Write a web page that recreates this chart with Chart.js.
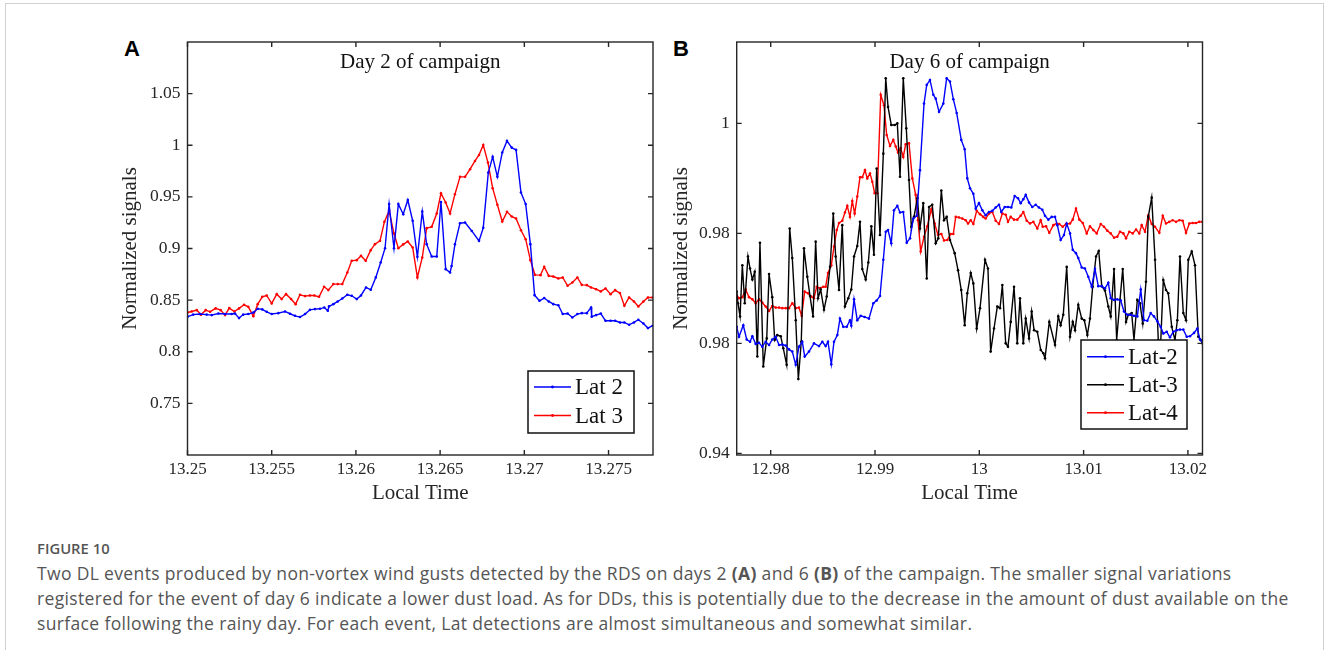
<!DOCTYPE html>
<html>
<head>
<meta charset="utf-8">
<script src="https://cdn.jsdelivr.net/npm/chart.js@4.4.1/dist/chart.umd.min.js"></script>
<style>
  body { margin: 0; background: #fff; }
  #page { position: relative; width: 1328px; height: 650px; overflow: hidden; background: #fff; }
  #frame { position: absolute; left: 5px; top: 3px; width: 1317px; height: 700px; border: 1px solid #d0d0d0; }
  .panel { position: absolute; font: bold 22px "Liberation Sans", Arial, sans-serif; color: #000; }
  .plot { position: absolute; top: 0; width: 570px; height: 510px; }
  #caption { position: absolute; left: 37px; top: 536px; font-family: "Open Sans", sans-serif; color: #555; white-space: nowrap; line-height: 25px; }
  #caption .fig { font-size: 14.8px; font-weight: 600; }
  #caption .txt { font-size: 17.5px; letter-spacing: 0.35px; }
</style>
</head>
<body>
<div id="page">
  <div id="frame"></div>
  <div class="panel" style="left:124px; top:36px;">A</div>
  <div class="panel" style="left:673px; top:36px;">B</div>
  <div class="plot" style="left:100px;"><canvas id="chartA" width="570" height="510"></canvas></div>
  <div class="plot" style="left:650px;"><canvas id="chartB" width="570" height="510"></canvas></div>
  <div id="caption">
    <div class="fig">FIGURE 10</div>
    <div class="txt">Two DL events produced by non-vortex wind gusts detected by the RDS on days 2 <b>(A)</b> and 6 <b>(B)</b> of the campaign. The smaller signal variations<br>registered for the event of day 6 indicate a lower dust load. As for DDs, this is potentially due to the decrease in the amount of dust available on the<br>surface following the rainy day. For each event, Lat detections are almost simultaneous and somewhat similar.</div>
  </div>
</div>
<script>
// ---- panel A (day 2) ----
var timeA2 = [13.25001, 13.25034, 13.25074, 13.25114, 13.25144, 13.25183, 13.25223, 13.25262, 13.25282, 13.25306,
  13.25331, 13.25361, 13.25391, 13.25417, 13.25444, 13.2547, 13.255, 13.25539, 13.25579, 13.25609,
  13.25638, 13.25668, 13.25698, 13.25727, 13.25757, 13.25787, 13.25812, 13.25833, 13.2584, 13.25866,
  13.25892, 13.25919, 13.25949, 13.25975, 13.26005, 13.2603, 13.2606, 13.26088, 13.26118, 13.26147,
  13.26173, 13.26197, 13.26226, 13.26252, 13.26281, 13.26308, 13.26337, 13.26365, 13.26394, 13.2642,
  13.2645, 13.2648, 13.26505, 13.26533, 13.26559, 13.26568, 13.26588, 13.26618, 13.26648, 13.26688,
  13.26731, 13.26756, 13.26786, 13.26812, 13.2684, 13.26869, 13.26897, 13.26925, 13.26951, 13.2698,
  13.27008, 13.27036, 13.27061, 13.2709, 13.27118, 13.27145, 13.27172, 13.27202, 13.27228, 13.27257,
  13.27285, 13.27315, 13.27341, 13.27371, 13.27396, 13.274, 13.27426, 13.27454, 13.27482, 13.27512,
  13.27539, 13.27568, 13.27594, 13.27622, 13.27651, 13.27677, 13.27707, 13.27734, 13.27762];
var lat2A = [0.834, 0.836, 0.8365, 0.836, 0.8355, 0.837, 0.8365, 0.8365, 0.837, 0.8326,
  0.836, 0.8365, 0.838, 0.8416, 0.841, 0.8387, 0.8365, 0.8374, 0.839, 0.8368,
  0.8348, 0.8336, 0.8365, 0.8406, 0.8413, 0.8416, 0.8429, 0.8397, 0.8439, 0.8461,
  0.8487, 0.8516, 0.8552, 0.8542, 0.851, 0.8545, 0.8623, 0.86, 0.872, 0.8865,
  0.9003, 0.943, 0.9003, 0.943, 0.9332, 0.947, 0.9268, 0.892, 0.9358, 0.9042,
  0.8923, 0.8923, 0.945, 0.88, 0.8768, 0.883, 0.904, 0.9245, 0.9252, 0.917,
  0.9074, 0.92, 0.9735, 0.9887, 0.9694, 0.993, 1.0042, 0.9977, 0.9955, 0.9542,
  0.943, 0.9042, 0.8548, 0.8494, 0.852, 0.8487, 0.8461, 0.845, 0.8365, 0.837,
  0.8332, 0.8365, 0.8374, 0.8374, 0.8429, 0.834, 0.8355, 0.837, 0.83, 0.83,
  0.83, 0.8284, 0.8284, 0.8261, 0.8284, 0.831, 0.8274, 0.8229, 0.8252];

var timeA3 = [13.25001, 13.25025, 13.25055, 13.2508, 13.25108, 13.25134, 13.25167, 13.25197, 13.25223, 13.25248,
  13.25278, 13.25306, 13.25336, 13.25361, 13.25391, 13.25417, 13.25444, 13.2547, 13.255, 13.2553,
  13.25559, 13.25585, 13.25615, 13.25642, 13.25668, 13.25698, 13.25727, 13.25753, 13.25781, 13.25811,
  13.25836, 13.25866, 13.25892, 13.25919, 13.25949, 13.25975, 13.26005, 13.2603, 13.26058, 13.26088,
  13.26113, 13.26143, 13.26169, 13.26197, 13.26226, 13.26252, 13.26281, 13.26308, 13.26337, 13.26365,
  13.26394, 13.2642, 13.2645, 13.2648, 13.26505, 13.26533, 13.26559, 13.26588, 13.26618, 13.26648,
  13.26678, 13.26707, 13.26731, 13.26756, 13.26784, 13.26812, 13.2684, 13.26869, 13.26897, 13.26925,
  13.26951, 13.2698, 13.27008, 13.27036, 13.27063, 13.27096, 13.27118, 13.27145, 13.27172, 13.27202,
  13.27228, 13.27257, 13.27285, 13.27315, 13.27341, 13.27371, 13.27396, 13.27426, 13.27454, 13.27482,
  13.27512, 13.27539, 13.27568, 13.27594, 13.27622, 13.27651, 13.27677, 13.27707, 13.27734, 13.27762];
var lat3A = [0.838, 0.839, 0.8403, 0.8358, 0.8403, 0.8387, 0.842, 0.8403, 0.8355, 0.8423,
  0.839, 0.842, 0.8455, 0.8435, 0.8345, 0.8461, 0.8532, 0.8545, 0.8468, 0.8558,
  0.851, 0.8558, 0.851, 0.8461, 0.8552, 0.8539, 0.8545, 0.8545, 0.8532, 0.8629,
  0.8597, 0.8655, 0.8655, 0.8655, 0.8768, 0.8881, 0.8887, 0.8929, 0.8881, 0.8984,
  0.9042, 0.9074, 0.9258, 0.9365, 0.9145, 0.9003, 0.904, 0.9068, 0.901, 0.872,
  0.8913, 0.9197, 0.921, 0.9339, 0.9535, 0.9445, 0.9339, 0.9526, 0.9694, 0.9694,
  0.9768, 0.9848, 0.9906, 1.0003, 0.9832, 0.9584, 0.9423, 0.9261, 0.9355, 0.931,
  0.929, 0.9177, 0.909, 0.8887, 0.8745, 0.8742, 0.8823, 0.8735, 0.8729, 0.871,
  0.8719, 0.8639, 0.8671, 0.8719, 0.8648, 0.8645, 0.8623, 0.8606, 0.8584, 0.8613,
  0.8558, 0.8597, 0.8568, 0.8445, 0.8526, 0.8487, 0.8439, 0.8487, 0.8526, 0.8526];

var xTicksA = [13.25, 13.255, 13.26, 13.265, 13.27, 13.275];
var xTickLabelsA = ["13.25", "13.255", "13.26", "13.265", "13.27", "13.275"];
var yTicksA = [0.75, 0.8, 0.85, 0.9, 0.95, 1, 1.05];
var yTickLabelsA = ["0.75", "0.8", "0.85", "0.9", "0.95", "1", "1.05"];

// ---- panel B (day 6) ----
var timeB2 = [12.97674, 12.97696, 12.97737, 12.9777, 12.97802, 12.97824, 12.97856, 12.97888, 12.97919, 12.97952,
  12.97984, 12.98015, 12.98048, 12.9808, 12.98111, 12.98144, 12.98175, 12.98207, 12.9824, 12.98271,
  12.98303, 12.98326, 12.98367, 12.98415, 12.98463, 12.98495, 12.98527, 12.98549, 12.98581, 12.98607,
  12.98639, 12.98664, 12.98696, 12.98729, 12.9876, 12.98773, 12.98799, 12.9883, 12.98863, 12.98901,
  12.98942, 12.98984, 12.99016, 12.99048, 12.9908, 12.99103, 12.99125, 12.99156, 12.99182, 12.99214,
  12.9924, 12.99271, 12.99304, 12.99336, 12.99367, 12.994, 12.99431, 12.9947, 12.99496, 12.99527,
  12.99559, 12.99582, 12.99614, 12.99655, 12.99687, 12.99719, 12.99751, 12.99783, 12.99827, 12.9986,
  12.99885, 12.99911, 12.99943, 12.99966, 12.99997, 13.00029, 13.00061, 13.00093, 13.00125, 13.00157,
  13.00189, 13.00211, 13.00244, 13.00275, 13.00307, 13.00339, 13.00371, 13.00397, 13.00422, 13.00445,
  13.00477, 13.00508, 13.00541, 13.00572, 13.00604, 13.0063, 13.00662, 13.00694, 13.00726, 13.00748,
  13.0078, 13.00812, 13.00838, 13.0087, 13.00896, 13.00927, 13.00949, 13.00982, 13.01013, 13.01045,
  13.01078, 13.01109, 13.01141, 13.01174, 13.01205, 13.01237, 13.0126, 13.01292, 13.01323, 13.01356,
  13.01387, 13.01419, 13.01452, 13.01483, 13.01515, 13.01548, 13.01579, 13.01611, 13.01643, 13.01675,
  13.01707, 13.01739, 13.01764, 13.01797, 13.01828, 13.0186, 13.01893, 13.01924, 13.01956, 13.01989,
  13.0202, 13.02059, 13.0209, 13.02116, 13.02138];
var lat2B = [0.963, 0.9612, 0.9633, 0.9607, 0.9603, 0.9613, 0.9599, 0.9601, 0.9594, 0.9603,
  0.9597, 0.9607, 0.9612, 0.9597, 0.9598, 0.9596, 0.9589, 0.9585, 0.9561, 0.9594,
  0.9603, 0.9576, 0.9585, 0.96, 0.9595, 0.9603, 0.9595, 0.9603, 0.9562, 0.9603,
  0.9615, 0.9645, 0.963, 0.963, 0.9642, 0.9632, 0.968, 0.9642, 0.965, 0.9648,
  0.9645, 0.9673, 0.9678, 0.9686, 0.9752, 0.9803, 0.9806, 0.9782, 0.9842, 0.985,
  0.9838, 0.9839, 0.9783, 0.9791, 0.9827, 0.9832, 0.9915, 1.0036, 1.007, 1.0079,
  1.0052, 1.0045, 1.0021, 1.0036, 1.0082, 1.0076, 1.0044, 1.0019, 0.997, 0.9953,
  0.99, 0.9882, 0.9872, 0.9845, 0.9855, 0.9842, 0.9833, 0.9839, 0.9841, 0.9847,
  0.9852, 0.9839, 0.9848, 0.9848, 0.9847, 0.9868, 0.9864, 0.9855, 0.9862, 0.987,
  0.9856, 0.9848, 0.9852, 0.9847, 0.9843, 0.9832, 0.9825, 0.983, 0.983, 0.9815,
  0.9788, 0.9797, 0.9818, 0.98, 0.977, 0.9764, 0.9755, 0.9738, 0.9736, 0.9721,
  0.9703, 0.9735, 0.9704, 0.9704, 0.97, 0.971, 0.9682, 0.9679, 0.968, 0.9678,
  0.9658, 0.9652, 0.9652, 0.965, 0.9649, 0.9698, 0.9642, 0.9641, 0.9655, 0.9649,
  0.964, 0.963, 0.9618, 0.9621, 0.9611, 0.9621, 0.9624, 0.9625, 0.9625, 0.9612,
  0.9613, 0.9619, 0.9627, 0.9607, 0.9603];

var timeB3 = [12.97674, 12.97686, 12.97706, 12.97728, 12.97751, 12.97782, 12.97802, 12.97824, 12.97847, 12.97872,
  12.97897, 12.97929, 12.97962, 12.97984, 12.98015, 12.98038, 12.98063, 12.98096, 12.98121, 12.98153,
  12.98182, 12.98207, 12.9824, 12.98265, 12.98293, 12.98319, 12.98351, 12.98377, 12.98406, 12.98431,
  12.98454, 12.98479, 12.98511, 12.98537, 12.98569, 12.986, 12.98623, 12.98655, 12.98686, 12.98712,
  12.98744, 12.98773, 12.98799, 12.9883, 12.98856, 12.98878, 12.98911, 12.98936, 12.98965, 12.9899,
  12.99016, 12.99048, 12.9908, 12.99103, 12.99125, 12.99156, 12.99189, 12.99214, 12.9924, 12.99271,
  12.993, 12.99326, 12.99348, 12.99374, 12.99406, 12.99431, 12.99463, 12.99496, 12.99518, 12.99549,
  12.99582, 12.99607, 12.99636, 12.99662, 12.99687, 12.99719, 12.99764, 12.99796, 12.99827, 12.9986,
  12.99885, 12.99918, 12.99943, 12.99975, 13.00007, 13.00055, 13.00083, 13.00109, 13.00141, 13.00173,
  13.00199, 13.00221, 13.00253, 13.00275, 13.00301, 13.00333, 13.00364, 13.0039, 13.00422, 13.00445,
  13.00477, 13.00502, 13.00525, 13.00556, 13.00589, 13.00614, 13.0063, 13.00671, 13.00726, 13.00757,
  13.0078, 13.00805, 13.00838, 13.0087, 13.00896, 13.00918, 13.00949, 13.00982, 13.01007, 13.01036,
  13.01061, 13.01087, 13.01119, 13.01145, 13.01174, 13.01205, 13.01237, 13.0126, 13.01292, 13.01317,
  13.01349, 13.01375, 13.01407, 13.01429, 13.01461, 13.01483, 13.01515, 13.01541, 13.01567, 13.01598,
  13.0162, 13.01653, 13.01685, 13.01716, 13.01739, 13.01764, 13.0179, 13.01812, 13.01845, 13.01876,
  13.01899, 13.01924, 13.01956, 13.01982, 13.02004, 13.02037, 13.02068, 13.021, 13.02123, 13.02138];
var lat3B = [0.9694, 0.9673, 0.9649, 0.9742, 0.9673, 0.9758, 0.9736, 0.9716, 0.973, 0.9576,
  0.9783, 0.9558, 0.9609, 0.9726, 0.9684, 0.9606, 0.9615, 0.9613, 0.9591, 0.9561,
  0.9809, 0.9755, 0.9642, 0.9535, 0.9603, 0.9773, 0.9721, 0.9686, 0.9649, 0.9785,
  0.9682, 0.9698, 0.9661, 0.9685, 0.9739, 0.9836, 0.9758, 0.9697, 0.9815, 0.9667,
  0.9682, 0.9698, 0.9758, 0.9777, 0.9821, 0.9735, 0.9716, 0.9747, 0.9813, 0.9761,
  0.9918, 0.9797, 0.9945, 1.0082, 1.003, 0.9997, 0.9997, 1.0, 0.9903, 1.0082,
  0.9991, 0.9897, 0.9812, 0.983, 0.9864, 0.9809, 0.9855, 0.9718, 0.9848, 0.9852,
  0.9782, 0.9791, 0.9878, 0.9824, 0.983, 0.9788, 0.9764, 0.9733, 0.9697, 0.9633,
  0.9691, 0.9728, 0.9709, 0.9627, 0.9664, 0.9752, 0.9736, 0.9585, 0.9627, 0.9667,
  0.9664, 0.9706, 0.96, 0.9594, 0.9639, 0.9703, 0.96, 0.9682, 0.96, 0.9645,
  0.9609, 0.9658, 0.9624, 0.9621, 0.9588, 0.9582, 0.9573, 0.9639, 0.9597, 0.9649,
  0.9633, 0.9652, 0.9739, 0.9612, 0.9639, 0.9624, 0.967, 0.9645, 0.9642, 0.9615,
  0.9645, 0.9703, 0.9758, 0.9768, 0.9704, 0.9696, 0.9667, 0.9649, 0.9735, 0.9606,
  0.9679, 0.9735, 0.9639, 0.9652, 0.9655, 0.9606, 0.9679, 0.9673, 0.9636, 0.9712,
  0.983, 0.9865, 0.9752, 0.9606, 0.96, 0.9715, 0.9697, 0.9691, 0.963, 0.9606,
  0.9642, 0.9758, 0.9655, 0.9642, 0.9752, 0.9767, 0.9742, 0.9612, 0.9606, 0.96];

var timeB4 = [12.97674, 12.97696, 12.97728, 12.9776, 12.97792, 12.97824, 12.97856, 12.97888, 12.97919, 12.97952,
  12.97984, 12.98015, 12.98048, 12.9808, 12.98111, 12.98144, 12.98175, 12.98207, 12.9824, 12.98271,
  12.98297, 12.98326, 12.98358, 12.98389, 12.98415, 12.98441, 12.98473, 12.98504, 12.98527, 12.98549,
  12.98581, 12.98607, 12.98633, 12.98655, 12.98686, 12.98712, 12.98734, 12.9876, 12.98782, 12.98805,
  12.9883, 12.98856, 12.98878, 12.98904, 12.98926, 12.98952, 12.98974, 12.98997, 12.99022, 12.99055,
  12.99086, 12.99112, 12.99144, 12.99175, 12.99199, 12.99221, 12.99246, 12.99271, 12.99294, 12.99326,
  12.99358, 12.9939, 12.99412, 12.99438, 12.9947, 12.99502, 12.9954, 12.99572, 12.99604, 12.99636,
  12.99662, 12.99693, 12.99726, 12.99751, 12.99774, 12.99805, 12.99837, 12.9987, 12.99892, 12.99918,
  12.99943, 12.99975, 13.00007, 13.00038, 13.00061, 13.00093, 13.00125, 13.00157, 13.00189, 13.00221,
  13.00253, 13.00275, 13.00301, 13.00333, 13.00364, 13.00397, 13.00422, 13.00455, 13.00486, 13.00518,
  13.00556, 13.00589, 13.00608, 13.0064, 13.00671, 13.0071, 13.00742, 13.00767, 13.008, 13.00831,
  13.0087, 13.00896, 13.00927, 13.00959, 13.00992, 13.0103, 13.01061, 13.01093, 13.01126, 13.01164,
  13.01196, 13.01227, 13.0126, 13.01292, 13.01323, 13.01349, 13.01381, 13.01407, 13.01438, 13.01471,
  13.01503, 13.01534, 13.01557, 13.01589, 13.0162, 13.01653, 13.01685, 13.01726, 13.01759, 13.0179,
  13.01822, 13.01854, 13.01886, 13.01918, 13.0195, 13.01982, 13.02014, 13.02046, 13.02078, 13.02109,
  13.02138];
var lat4B = [0.9688, 0.9682, 0.9684, 0.9698, 0.9684, 0.968, 0.9673, 0.968, 0.9674, 0.9667,
  0.9659, 0.9668, 0.9665, 0.9665, 0.9664, 0.9664, 0.9664, 0.9673, 0.9664, 0.9665,
  0.965, 0.9694, 0.9691, 0.9685, 0.9682, 0.9703, 0.97, 0.9703, 0.9703, 0.9728,
  0.9742, 0.9776, 0.9806, 0.9819, 0.9823, 0.9838, 0.985, 0.983, 0.9859, 0.9836,
  0.9867, 0.9902, 0.9902, 0.9915, 0.99, 0.9909, 0.9894, 0.9873, 0.9873, 1.0052,
  1.0033, 0.9979, 0.9959, 0.997, 0.9958, 0.9947, 0.9955, 0.9939, 0.9962, 0.9964,
  0.99, 0.987, 0.9824, 0.9767, 0.9794, 0.9813, 0.9844, 0.9818, 0.9797, 0.9799,
  0.9787, 0.9788, 0.9799, 0.9799, 0.983, 0.9829, 0.9827, 0.9824, 0.9818, 0.9824,
  0.9817, 0.9841, 0.9835, 0.983, 0.9827, 0.9836, 0.9839, 0.9823, 0.9817, 0.9836,
  0.9834, 0.9821, 0.983, 0.9825, 0.9825, 0.9832, 0.9839, 0.9823, 0.9818, 0.9821,
  0.9809, 0.9824, 0.9812, 0.9813, 0.9801, 0.9815, 0.9818, 0.9817, 0.9812, 0.9817,
  0.9818, 0.9825, 0.9845, 0.9825, 0.9819, 0.98, 0.9813, 0.9806, 0.98, 0.9817,
  0.9812, 0.9805, 0.98, 0.9792, 0.9794, 0.9803, 0.98, 0.9791, 0.9803, 0.98,
  0.9807, 0.98, 0.9815, 0.9803, 0.9833, 0.9817, 0.9812, 0.9801, 0.9832, 0.9818,
  0.9821, 0.9824, 0.9821, 0.9824, 0.9823, 0.9801, 0.9818, 0.9819, 0.9819, 0.9821,
  0.9821];

var xTicksB = [12.98, 12.99, 13, 13.01, 13.02];
var xTickLabelsB = ["12.98", "12.99", "13", "13.01", "13.02"];
var yTicksB = [0.94, 0.96, 0.98, 1];
var yTickLabelsB = ["0.94", "0.98", "0.98", "1"];

var SERIF = '"Liberation Serif", "Times New Roman", serif';
var INK = "#262626";

function points(times, values) {
  return times.map((t, i) => ({ x: t, y: values[i] }));
}

function series(label, times, values, color) {
  return {
    label: label,
    data: points(times, values),
    borderColor: color,
    backgroundColor: color,
    borderWidth: 1.4,
    pointRadius: 1.3,
    pointBorderWidth: 0,
    pointHoverRadius: 0,
    tension: 0
  };
}

// box round the axes, inward ticks on all four sides, title inside, legend box
var matlabAxes = {
  id: "matlabAxes",
  afterDatasetsDraw(chart, args, opts) {
    var ctx = chart.ctx;
    var a = chart.chartArea;
    var x = chart.scales.x, y = chart.scales.y;
    ctx.save();
    ctx.strokeStyle = INK;
    ctx.lineWidth = 1.4;
    ctx.beginPath();
    x.ticks.forEach(t => {
      var px = x.getPixelForValue(t.value);
      ctx.moveTo(px, a.bottom); ctx.lineTo(px, a.bottom - 5);
      ctx.moveTo(px, a.top); ctx.lineTo(px, a.top + 5);
    });
    y.ticks.forEach(t => {
      var py = y.getPixelForValue(t.value);
      ctx.moveTo(a.left, py); ctx.lineTo(a.left + 5, py);
      ctx.moveTo(a.right, py); ctx.lineTo(a.right - 5, py);
    });
    ctx.stroke();
    ctx.strokeRect(a.left, a.top, a.right - a.left, a.bottom - a.top);

    // title inside the axes
    ctx.fillStyle = "#111";
    ctx.font = "21px " + SERIF;
    ctx.textAlign = "center";
    ctx.textBaseline = "middle";
    ctx.fillText(opts.title, (a.left + a.right) / 2, a.top + 20);

    // legend
    var b = opts.legend;
    ctx.fillStyle = "#fff";
    ctx.fillRect(b.x, b.y, b.w, b.h);
    ctx.lineWidth = 1.5;
    ctx.strokeStyle = "#111";
    ctx.strokeRect(b.x, b.y, b.w, b.h);
    ctx.font = "23px " + SERIF;
    ctx.textAlign = "left";
    chart.data.datasets.forEach((ds, i) => {
      var ly = b.y + b.rowTop + i * b.rowGap;
      ctx.strokeStyle = ds.borderColor;
      ctx.lineWidth = 1.4;
      ctx.beginPath();
      ctx.moveTo(b.x + 6, ly);
      ctx.lineTo(b.x + 43, ly);
      ctx.stroke();
      ctx.fillStyle = ds.borderColor;
      ctx.beginPath();
      ctx.arc(b.x + 24.5, ly, 1.4, 0, Math.PI * 2);
      ctx.fill();
      ctx.fillStyle = "#111";
      ctx.fillText(ds.label, b.x + 47, ly + 1);
    });
    ctx.restore();
  }
};

function makeChart(el, cfg) {
  return new Chart(el, {
    type: "line",
    data: { datasets: cfg.datasets },
    plugins: [matlabAxes],
    options: {
      responsive: false,
      animation: false,
      events: [],
      layout: { padding: { top: 42, right: cfg.padRight, bottom: 0, left: 0 } },
      plugins: {
        legend: { display: false },
        tooltip: { enabled: false },
        matlabAxes: { title: cfg.title, legend: cfg.legend }
      },
      scales: {
        x: {
          type: "linear",
          min: cfg.xMin,
          max: cfg.xMax,
          afterBuildTicks: s => { s.ticks = cfg.xTicks.map(v => ({ value: v })); },
          afterFit: s => { s.height = 55; },
          grid: { display: false, drawTicks: false },
          border: { display: false },
          ticks: {
            autoSkip: false, maxRotation: 0, minRotation: 0, padding: 4,
            color: INK, font: { family: SERIF, size: 17 },
            callback: (v, i) => cfg.xLabels[i]
          },
          title: {
            display: true, text: "Local Time", color: INK,
            font: { family: SERIF, size: 21 }, padding: { top: 0, bottom: 4 }
          }
        },
        y: {
          type: "linear",
          min: cfg.yMin,
          max: cfg.yMax,
          afterBuildTicks: s => { s.ticks = cfg.yTicks.map(v => ({ value: v })); },
          afterFit: s => { s.width = cfg.yWidth; },
          grid: { display: false, drawTicks: false },
          border: { display: false },
          ticks: {
            autoSkip: false, padding: 7,
            color: INK, font: { family: SERIF, size: 17.5 },
            callback: (v, i) => cfg.yLabels[i]
          },
          title: {
            display: true, text: "Normalized signals", color: INK,
            font: { family: SERIF, size: 21 }, padding: { top: cfg.yTitlePad, bottom: 0 }
          }
        }
      }
    }
  });
}

makeChart(document.getElementById("chartA"), {
  datasets: [
    series("Lat 2", timeA2, lat2A, "#0000ff"),
    series("Lat 3", timeA3, lat3A, "#ff0000")
  ],
  xMin: 13.25, xMax: 13.27764, yMin: 0.7, yMax: 1.1,
  xTicks: xTicksA, xLabels: xTickLabelsA, yTicks: yTicksA, yLabels: yTickLabelsA,
  yWidth: 87.5, padRight: 17, yTitlePad: 18,
  title: "Day 2 of campaign",
  legend: { x: 428, y: 371, w: 106, h: 62, rowTop: 16, rowGap: 28.5 }
});

makeChart(document.getElementById("chartB"), {
  datasets: [
    series("Lat-2", timeB2, lat2B, "#0000ff"),
    series("Lat-3", timeB3, lat3B, "#000000"),
    series("Lat-4", timeB4, lat4B, "#ff0000")
  ],
  xMin: 12.97674, xMax: 13.0214, yMin: 0.9397, yMax: 1.0148,
  xTicks: xTicksB, xLabels: xTickLabelsB, yTicks: yTicksB, yLabels: yTickLabelsB,
  yWidth: 86.7, padRight: 17.5, yTitlePad: 19,
  title: "Day 6 of campaign",
  legend: { x: 431, y: 340, w: 106, h: 89, rowTop: 16.7, rowGap: 28 }
});
</script>
</body>
</html>
